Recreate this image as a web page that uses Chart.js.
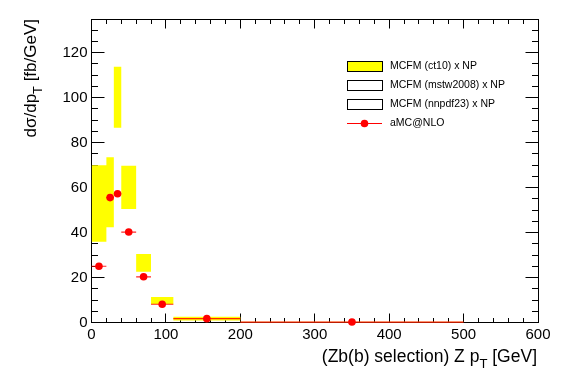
<!DOCTYPE html>
<html>
<head>
<meta charset="utf-8">
<script src="https://cdn.jsdelivr.net/npm/chart.js@4.4.0/dist/chart.umd.min.js"></script>
<style>
  html, body { margin: 0; padding: 0; background: #fff; }
</style>
</head>
<body>
<canvas id="zptChart" width="567" height="384"></canvas>
<script>
// Z pT distribution, Zb(b) selection

const binEdges = [0, 20, 30, 40, 60, 80, 110, 200, 500];
const ct10Low  = [36.0, 42.4, 86.7, 50.5, 22.7, 8.2, 1.0, 0.1];
const ct10High = [70.0, 73.5, 113.8, 69.8, 30.5, 11.4, 2.6, 0.4];
const amcX = [10, 25, 35, 50, 70, 95, 155, 350];
const amcY = [25.1, 55.6, 57.3, 40.3, 20.4, 8.2, 1.8, 0.3];

const xTickValues = [0, 100, 200, 300, 400, 500, 600];
const yTickValues = [0, 20, 40, 60, 80, 100, 120];
const legendLabels = ['MCFM (ct10) x NP', 'MCFM (mstw2008) x NP', 'MCFM (nnpdf23) x NP', 'aMC@NLO'];

const FONT = '"Liberation Sans", Arial, Helvetica, sans-serif';

// histogram outline as step points (left edge of each bin + final edge)
function stepLine(vals) {
  const pts = vals.map((v, i) => ({ x: binEdges[i], y: v }));
  pts.push({ x: binEdges[binEdges.length - 1], y: vals[vals.length - 1] });
  return pts;
}

// horizontal error bars = bin widths, separated by gaps
const errPts = [];
amcY.forEach((v, i) => {
  errPts.push({ x: binEdges[i], y: v }, { x: binEdges[i + 1], y: v }, { x: binEdges[i + 1], y: null });
});

function drawParts(ctx, x, y, parts, size) {
  let cx = x;
  parts.forEach(p => {
    const s = p.sub ? size * 0.75 : size;
    ctx.font = s + 'px ' + FONT;
    ctx.fillText(p.t, cx, p.sub ? y + size * 0.35 : y);
    cx += ctx.measureText(p.t).width;
  });
}
function partsWidth(ctx, parts, size) {
  let w = 0;
  parts.forEach(p => {
    ctx.font = (p.sub ? size * 0.75 : size) + 'px ' + FONT;
    w += ctx.measureText(p.t).width;
  });
  return w;
}

const rootFrame = {
  id: 'rootFrame',
  beforeDatasetsDraw(chart) {
    const { ctx, chartArea: a, scales: { x, y } } = chart;
    const L = Math.floor(a.left) + 0.5, R = Math.floor(a.right) + 0.5;
    const T = Math.floor(a.top) + 0.5, B = Math.floor(a.bottom) + 0.5;
    ctx.save();
    ctx.strokeStyle = '#000';
    ctx.lineWidth = 1;
    ctx.strokeRect(L, T, R - L, B - T);
    ctx.beginPath();
    for (let v = 0; v <= 600; v += 20) {
      const px = Math.floor(x.getPixelForValue(v)) + 0.5;
      const len = v % 100 === 0 ? 9 : 4.5;
      ctx.moveTo(px, B); ctx.lineTo(px, B - len);
      ctx.moveTo(px, T); ctx.lineTo(px, T + len);
    }
    for (let v = 0; v <= 135; v += 5) {
      const py = Math.floor(y.getPixelForValue(v)) + 0.5;
      const len = v % 20 === 0 ? 13 : 6.5;
      ctx.moveTo(L, py); ctx.lineTo(L + len, py);
      ctx.moveTo(R, py); ctx.lineTo(R - len, py);
    }
    ctx.stroke();
    ctx.restore();
  },
  afterDraw(chart) {
    const { ctx } = chart;
    ctx.save();
    ctx.fillStyle = '#000';
    ctx.textBaseline = 'alphabetic';

    // x title, right aligned to the axis end
    const xParts = [{ t: '(Zb(b) selection) Z p' }, { t: 'T', sub: true }, { t: ' [GeV]' }];
    const xs = 17.5;
    drawParts(ctx, 537 - partsWidth(ctx, xParts, xs), 362, xParts, xs);

    // y title, rotated, aligned to the top
    const yParts = [{ t: 'd\u03C3/dp' }, { t: 'T', sub: true }, { t: ' [fb/GeV]' }];
    const ys = 17;
    ctx.translate(36, 19);
    ctx.rotate(-Math.PI / 2);
    drawParts(ctx, -partsWidth(ctx, yParts, ys), 0, yParts, ys);
    ctx.setTransform(1, 0, 0, 1, 0, 0);

    // legend
    const lx = 347, bw = 35, bh = 10;
    ctx.font = '10.5px ' + FONT;
    ctx.textBaseline = 'middle';
    legendLabels.forEach((lab, i) => {
      const cy = 66 + i * 19;
      if (i < 3) {
        ctx.fillStyle = i === 0 ? '#ffff00' : '#ffffff';
        ctx.fillRect(lx, cy - bh / 2, bw, bh);
        ctx.strokeStyle = '#000';
        ctx.lineWidth = 1;
        ctx.strokeRect(lx + 0.5, Math.floor(cy - bh / 2) + 0.5, bw, bh);
      } else {
        ctx.strokeStyle = '#ff0000';
        ctx.beginPath();
        ctx.moveTo(lx, Math.floor(cy) + 0.5); ctx.lineTo(lx + bw, Math.floor(cy) + 0.5);
        ctx.stroke();
        ctx.fillStyle = '#ff0000';
        ctx.beginPath();
        ctx.arc(lx + bw / 2, cy + 0.5, 3.8, 0, Math.PI * 2);
        ctx.fill();
      }
      ctx.fillStyle = '#000';
      ctx.fillText(lab, 390, cy + 0.5);
    });
    ctx.restore();
  }
};

new Chart(document.getElementById('zptChart'), {
  type: 'scatter',
  data: {
    datasets: [
      {
        label: 'aMC@NLO',
        data: amcX.map((x, i) => ({ x: x, y: amcY[i] })),
        pointRadius: 3.8,
        pointHoverRadius: 3.8,
        backgroundColor: '#ff0000',
        borderWidth: 0,
        clip: false
      },
      {
        label: 'aMC@NLO bins',
        data: errPts,
        showLine: true,
        spanGaps: false,
        borderColor: 'rgba(255,0,0,0.85)',
        borderWidth: 1.2,
        pointRadius: 0,
        clip: false
      },
      {
        label: 'ct10 low',
        data: stepLine(ct10Low),
        showLine: true,
        stepped: true,
        borderColor: 'rgba(0,0,0,0)',
        borderWidth: 0,
        pointRadius: 0,
        fill: false
      },
      {
        label: 'MCFM (ct10) x NP',
        data: stepLine(ct10High),
        showLine: true,
        stepped: true,
        borderColor: 'rgba(0,0,0,0)',
        borderWidth: 0,
        pointRadius: 0,
        fill: '-1',
        backgroundColor: '#ffff00'
      }
    ]
  },
  options: {
    responsive: false,
    animation: false,
    devicePixelRatio: 1,
    layout: { padding: { left: 0, right: 29, top: 19, bottom: 0 } },
    plugins: {
      legend: { display: false },
      tooltip: { enabled: false }
    },
    scales: {
      x: {
        type: 'linear',
        min: 0,
        max: 600,
        grid: { display: false, drawTicks: false },
        border: { display: false },
        afterFit(scale) { scale.height = 61.3; },
        afterBuildTicks(scale) { scale.ticks = xTickValues.map(v => ({ value: v })); },
        ticks: { padding: 3, color: '#000', font: { family: FONT, size: 15 } }
      },
      y: {
        min: 0,
        max: 135,
        grid: { display: false, drawTicks: false },
        border: { display: false },
        afterFit(scale) { scale.width = 91.5; },
        afterBuildTicks(scale) { scale.ticks = yTickValues.map(v => ({ value: v })); },
        ticks: { padding: 4, color: '#000', font: { family: FONT, size: 15 } }
      }
    }
  },
  plugins: [rootFrame]
});
</script>
</body>
</html>
